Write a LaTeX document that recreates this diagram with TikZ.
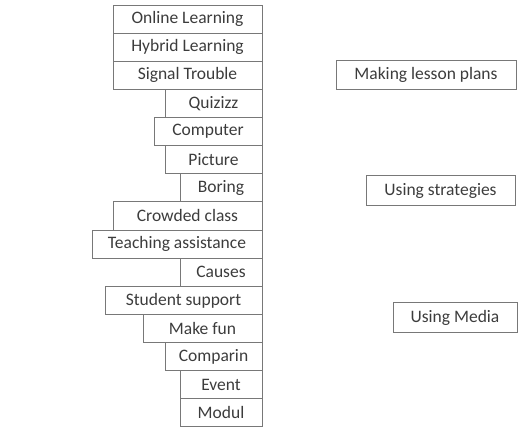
\documentclass[tikz,border=0pt]{standalone}
\usepackage{fontspec}
\setmainfont{Carlito}
\usepackage{tikz}
\usetikzlibrary{positioning}
\definecolor{boxline}{RGB}{120,120,120}
\definecolor{boxtext}{RGB}{60,60,60}

\begin{document}
\begin{tikzpicture}[
    x=1pt, y=-1pt,
    item/.style={rectangle, draw=boxline, line width=1pt, outer sep=0pt, text=boxtext, inner sep=0pt, minimum height=28.13pt, anchor=north east, font=\fontsize{17.5}{20}\selectfont},
    theme/.style={rectangle, draw=boxline, line width=1pt, outer sep=0pt, text=boxtext, inner sep=0pt, minimum height=29.5pt, font=\fontsize{17.5}{20}\selectfont}
]
\useasboundingbox (0,0) rectangle (528,431);

% left stack, right edges aligned
\node[item, minimum width=149pt] (online) at (262,5) {Online Learning};
\node[item, minimum width=149pt] (hybrid) at (online.south east) {Hybrid Learning};
\node[item, minimum width=149pt] (signal) at (hybrid.south east) {Signal Trouble};
\node[item, minimum width=97pt] (quizizz) at (signal.south east) {Quizizz};
\node[item, minimum width=108pt] (computer) at (quizizz.south east) {Computer};
\node[item, minimum width=97pt] (picture) at (computer.south east) {Picture};
\node[item, minimum width=82pt] (boring) at (picture.south east) {Boring};
\node[item, minimum width=149pt] (crowded) at (boring.south east) {Crowded class};
\node[item, minimum width=170pt] (teaching) at (crowded.south east) {Teaching assistance};
\node[item, minimum width=82pt] (causes) at (teaching.south east) {Causes};
\node[item, minimum width=157pt] (support) at (causes.south east) {Student support};
\node[item, minimum width=119pt] (makefun) at (support.south east) {Make fun};
\node[item, minimum width=97pt] (comparin) at (makefun.south east) {Comparin};
\node[item, minimum width=82pt] (event) at (comparin.south east) {Event};
\node[item, minimum width=82pt] (modul) at (event.south east) {Modul};

% themes on the right
\node[theme, minimum width=180pt] (plans) at (426,75) {Making lesson plans};
\node[theme, minimum width=149pt] (strategies) at (440.5,190.5) {Using strategies};
\node[theme, minimum width=124pt] (media) at (455,317.5) {Using Media};

\end{tikzpicture}
\end{document}
